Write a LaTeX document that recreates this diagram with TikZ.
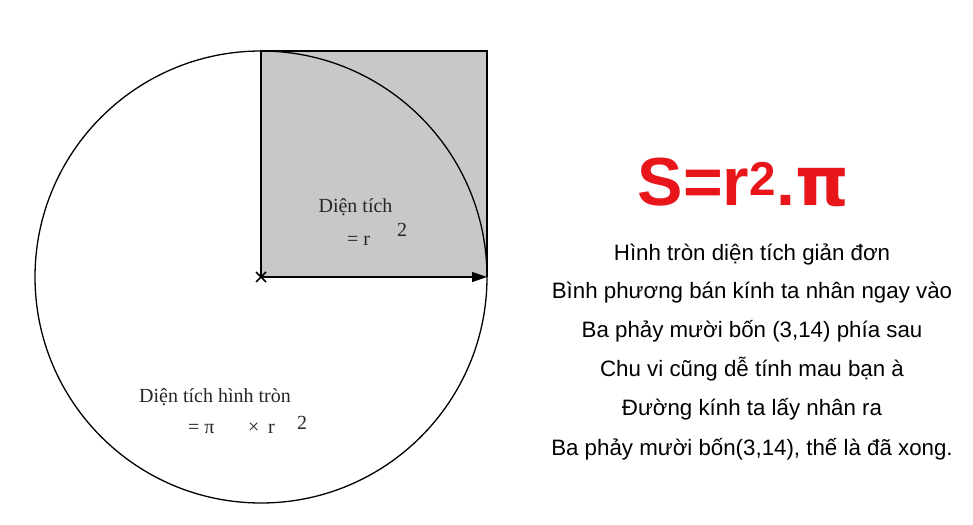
\documentclass[tikz,border=0pt]{standalone}
\usepackage{fontspec}
\setmainfont{Liberation Serif}
\newfontfamily\lsans{Liberation Sans}
\newfontfamily\lserif{Liberation Serif}
\newfontfamily\dvsans{DejaVu Sans}
\usetikzlibrary{arrows.meta,calc}
\definecolor{sqgray}{RGB}{200,200,200}
\definecolor{formred}{RGB}{232,22,26}
\tikzset{
  figline/.style={line width=1.3pt, draw=black},
  seriflbl/.style={font=\lserif\fontsize{20}{24}\selectfont, inner sep=0pt, text=black!85},
  poemline/.style={font=\lsans\fontsize{22.3}{26}\selectfont, inner sep=0pt, anchor=base},
  formula/.style={font=\lsans\bfseries\fontsize{68}{80}\selectfont, inner sep=0pt, anchor=base, text=formred},
}
\begin{document}
\begin{tikzpicture}[x=1pt,y=-1pt]
\useasboundingbox (0,0) rectangle (973,524);
\fill[white] (0,0) rectangle (973,524);
% points
\coordinate (O) at (261,277);
\coordinate (T) at (261,51);
\coordinate (TR) at (487,51);
\coordinate (R) at (487,277);
% square
\fill[sqgray] (O) rectangle (TR);
\draw[figline, line width=1.2pt] (O) -- (T) -- (TR) -- (R);
% circle
\draw[figline] (O) circle[radius=226];
% radius arrow
\draw[figline, -{Triangle[length=15pt,width=10pt]}] (O) -- (R);
% centre cross
\draw[line width=1.6pt] ($(O)+(-5,-5)$) -- ($(O)+(5,5)$);
\draw[line width=1.6pt] ($(O)+(-5,5)$) -- ($(O)+(5,-5)$);
% square label
\node[seriflbl, anchor=base] (sqa) at (355.5,212) {Diện tích};
\node[seriflbl, anchor=base west] (sqb) at (347,245) {= r};
\node[seriflbl, anchor=base west] (sqc) at (397,236) {2};
% circle label
\node[seriflbl, anchor=base] (cia) at (215,402) {Diện tích hình tròn};
\node[seriflbl, anchor=base west] (cib) at (188,433) {= π};
\node[seriflbl, anchor=base west] (cic) at (248,433) {×};
\node[seriflbl, anchor=base west] (cid) at (268,433) {r};
\node[seriflbl, anchor=base west] (cie) at (297,429) {2};
% formula
\node[formula] (F) at (743.5,205) {S=r\textsuperscript{2}.{\dvsans\bfseries π}};
% poem
\node[poemline] (p1) at (752,260) {Hình tròn diện tích giản đơn};
\node[poemline] (p2) at (752,298) {Bình phương bán kính ta nhân ngay vào};
\node[poemline] (p3) at (752,337) {Ba phảy mười bốn (3,14) phía sau};
\node[poemline] (p4) at (752,376) {Chu vi cũng dễ tính mau bạn à};
\node[poemline] (p5) at (752,415) {Đường kính ta lấy nhân ra};
\node[poemline] (p6) at (752,455) {Ba phảy mười bốn(3,14), thế là đã xong.};
\end{tikzpicture}
\end{document}
